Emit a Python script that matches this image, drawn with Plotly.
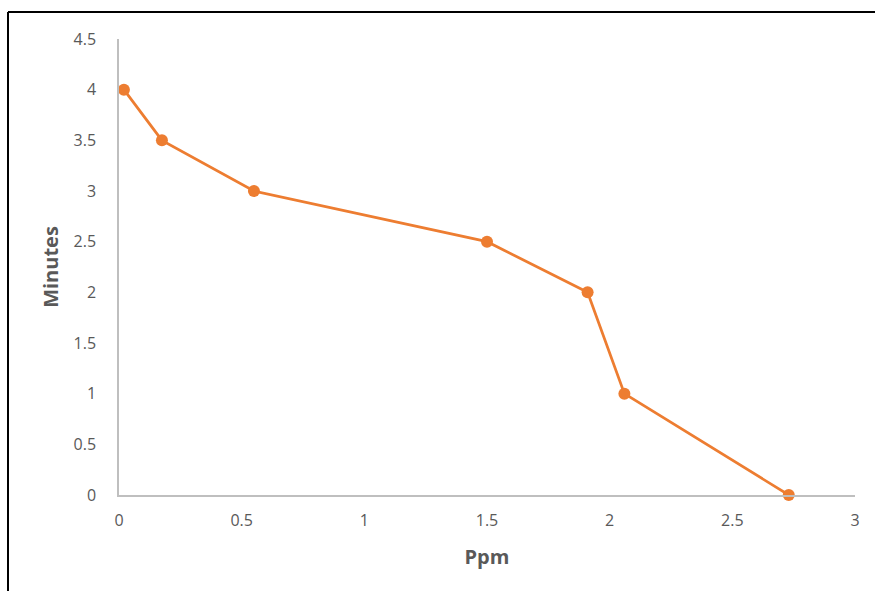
import plotly.graph_objects as go

ppm = [0.02, 0.175, 0.55, 1.5, 1.91, 2.06, 2.73]
minutes = [4, 3.5, 3, 2.5, 2, 1, 0]
x_ticks = [0, 0.5, 1, 1.5, 2, 2.5, 3]
y_ticks = [0, 0.5, 1, 1.5, 2, 2.5, 3, 3.5, 4, 4.5]

W, H = 875, 591
L, R, T, B = 119, 20, 39, 96
pw, ph = W - L - R, H - T - B

fig = go.Figure()
fig.add_trace(go.Scatter(
    x=ppm, y=minutes, mode="lines+markers",
    line=dict(color="#ED7D31", width=2.75),
    marker=dict(color="#ED7D31", size=12),
    cliponaxis=False, showlegend=False,
))

font = "Open Sans, Liberation Sans, sans-serif"
fig.update_layout(
    width=W, height=H,
    margin=dict(l=L, r=R, t=T, b=B),
    paper_bgcolor="white", plot_bgcolor="white",
    font=dict(family=font, color="#595959", size=16),
    xaxis=dict(
        range=[0, 3], tickvals=x_ticks, ticktext=[f"{v:g}" for v in x_ticks],
        showgrid=False, zeroline=False, showline=True, linecolor="#BFBFBF", linewidth=1.5,
        ticks="", ticklabelstandoff=10, tickfont=dict(family=font, size=16, color="#595959"),
        title=dict(text="<b>Ppm</b>", font=dict(family=font, size=20, color="#595959"), standoff=20),
    ),
    yaxis=dict(
        range=[0, 4.5], tickvals=y_ticks, ticktext=[f"{v:g}" for v in y_ticks],
        showgrid=False, zeroline=False, showline=True, linecolor="#BFBFBF", linewidth=1.5,
        ticks="", ticklabelstandoff=18, tickfont=dict(family=font, size=16, color="#595959"),
        title=dict(text="<b>Minutes</b>", font=dict(family=font, size=20, color="#595959"), standoff=10),
    ),
)

# outer border of the chart (left and top edges visible)
x0 = (8 - L) / pw
y1 = (H - B - 12) / ph
fig.add_shape(type="line", xref="paper", yref="paper", x0=x0, x1=x0, y0=-0.3, y1=y1,
              line=dict(color="black", width=2))
fig.add_shape(type="line", xref="paper", yref="paper", x0=x0, x1=1.2, y0=y1, y1=y1,
              line=dict(color="black", width=2))

fig.write_html("out.html")
